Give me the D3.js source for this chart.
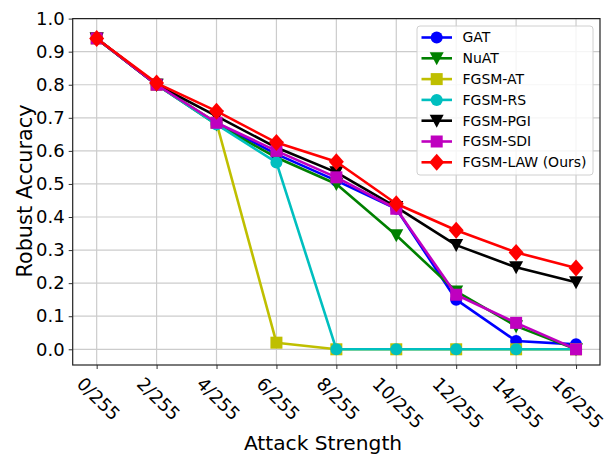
<!DOCTYPE html>
<html><head><meta charset="utf-8">
<script src="https://cdn.jsdelivr.net/npm/d3@7"></script>
<style>body{margin:0;background:#fff}svg{display:block}text{font-family:"DejaVu Sans",sans-serif}</style>
</head><body><svg id="c" width="610" height="456"></svg>
<script>
const xValues = [0, 2, 4, 6, 8, 10, 12, 14, 16];
const xTickLabels = ["0/255","2/255","4/255","6/255","8/255","10/255","12/255","14/255","16/255"];
const yTicks = [0.0,0.1,0.2,0.3,0.4,0.5,0.6,0.7,0.8,0.9,1.0];
const seriesNames = ["GAT","NuAT","FGSM-AT","FGSM-RS","FGSM-PGI","FGSM-SDI","FGSM-LAW (Ours)"];
const seriesColors = ["#0000ff","#008000","#bfbf00","#00bfbf","#000000","#bf00bf","#ff0000"];
const seriesMarkers = ["circle","triangle","square","circle","triangle","square","diamond"];
const gat   = [0.94, 0.80, 0.685, 0.59, 0.51, 0.425, 0.15, 0.025, 0.015];
const nuat  = [0.94, 0.80, 0.68, 0.58, 0.50, 0.345, 0.175, 0.07, 0.00];
const fgsmAT = [0.94, 0.80, 0.685, 0.02, 0.00, 0.00, 0.00, 0.00, 0.00];
const fgsmRS = [0.94, 0.80, 0.68, 0.565, 0.00, 0.00, 0.00, 0.00, 0.00];
const fgsmPGI = [0.94, 0.80, 0.705, 0.61, 0.535, 0.43, 0.315, 0.248, 0.203];
const fgsmSDI = [0.94, 0.80, 0.685, 0.60, 0.52, 0.425, 0.165, 0.08, 0.00];
const fgsmLAW = [0.94, 0.805, 0.72, 0.625, 0.567, 0.44, 0.36, 0.293, 0.246];
const seriesValues = [gat, nuat, fgsmAT, fgsmRS, fgsmPGI, fgsmSDI, fgsmLAW];

const svg = d3.select("#c");
const L = 72.7, R = 600, T = 18.6, B = 365;
const x = d3.scaleLinear().domain([-0.8, 16.8]).range([L, R]);
const y = d3.scaleLinear().domain([-0.0475, 1.0]).range([B, T]);

// grid
const g = svg.append("g");
g.selectAll(".vg").data(xValues).join("line")
  .attr("x1", d=>x(d)).attr("x2", d=>x(d)).attr("y1", T).attr("y2", B)
  .attr("stroke", "#cccccc").attr("stroke-width", 1.2);
g.selectAll(".hg").data(yTicks).join("line")
  .attr("y1", d=>y(d)).attr("y2", d=>y(d)).attr("x1", L).attr("x2", R)
  .attr("stroke", "#cccccc").attr("stroke-width", 1.2);

// axes
const xAxis = d3.axisBottom(x).tickValues(xValues).tickFormat((d,i)=>xTickLabels[i]).tickSize(4).tickPadding(3);
const yAxis = d3.axisLeft(y).tickValues(yTicks).tickFormat(d3.format(".1f")).tickSize(4).tickPadding(4);
const xa = svg.append("g").attr("transform", `translate(0,${B})`).call(xAxis);
xa.select(".domain").remove();
xa.selectAll(".tick line").attr("stroke", "#333").attr("stroke-width", 1);
xa.selectAll(".tick text").attr("font-size", 18).attr("fill", "#000")
  .attr("text-anchor", "start").attr("dy", null).attr("y", 0).attr("x", 0)
  .attr("dominant-baseline", "hanging")
  .each(function() {
    const t = d3.select(this);
    t.attr("transform", "rotate(45)");
    const bb = this.getBoundingClientRect();
    const tickG = this.parentNode.getBoundingClientRect ? this.parentNode : null;
    // position relative to tick group origin
    const m = this.parentNode.getScreenCTM();
    const ox = m.e, oy = m.f;
    const cx = (bb.left + bb.right) / 2 - ox;
    const top = bb.top - oy;
    t.attr("transform", `translate(${1.5 - cx},${8 - top}) rotate(45)`);
  });
const ya = svg.append("g").attr("transform", `translate(${L},0)`).call(yAxis);
ya.select(".domain").remove();
ya.selectAll(".tick line").attr("stroke", "#333").attr("stroke-width", 1);
ya.selectAll(".tick text").attr("font-size", 18).attr("fill", "#000");

// frame
svg.append("rect").attr("x", L).attr("y", T).attr("width", R-L).attr("height", B-T)
  .attr("fill", "none").attr("stroke", "#222").attr("stroke-width", 1.2);

// marker helper
function marker(sel, type, color) {
  if (type === "circle") sel.append("circle").attr("r", 6).attr("fill", color);
  else if (type === "square") sel.append("rect").attr("x", -6).attr("y", -6).attr("width", 12).attr("height", 12).attr("fill", color);
  else if (type === "triangle") sel.append("path").attr("d", "M-7,-6L7,-6L0,7Z").attr("fill", color);
  else if (type === "diamond") sel.append("path").attr("d", "M0,-8.5L7.5,0L0,8.5L-7.5,0Z").attr("fill", color);
}

const line = d3.line().x((d,i)=>x(xValues[i])).y(d=>y(d));
seriesValues.forEach((vals, si) => {
  const col = seriesColors[si];
  svg.append("path").datum(vals).attr("d", line).attr("fill", "none")
    .attr("stroke", col).attr("stroke-width", 2.6).attr("stroke-linejoin", "round");
  vals.forEach((v, i) => {
    const m = svg.append("g").attr("transform", `translate(${x(xValues[i])},${y(v)})`);
    marker(m, seriesMarkers[si], col);
  });
});

// legend
const lg = svg.append("g");
lg.append("rect").attr("x", 417).attr("y", 26).attr("width", 176).attr("height", 149).attr("rx", 3)
  .attr("fill", "#fff").attr("fill-opacity", 0.8).attr("stroke", "#d0d0d0").attr("stroke-width", 1);
seriesNames.forEach((name, i) => {
  const yy = 37.5 + i * 20.8;
  const e = lg.append("g");
  e.append("line").attr("x1", 421.5).attr("x2", 452).attr("y1", yy).attr("y2", yy)
    .attr("stroke", seriesColors[i]).attr("stroke-width", 2.6);
  marker(e.append("g").attr("transform", `translate(436.7,${yy})`), seriesMarkers[i], seriesColors[i]);
  e.append("text").attr("x", 462.5).attr("y", yy).attr("dy", "0.35em").attr("font-size", 14).attr("fill", "#000").text(name);
});

// axis titles
svg.append("text").attr("x", 323).attr("y", 450).attr("text-anchor", "middle").attr("font-size", 20.2).attr("fill", "#000").text("Attack Strength");
svg.append("text").attr("transform", "translate(31.5,191) rotate(-90)").attr("text-anchor", "middle").attr("font-size", 20.8).attr("fill", "#000").text("Robust Accuracy");
</script></body></html>
